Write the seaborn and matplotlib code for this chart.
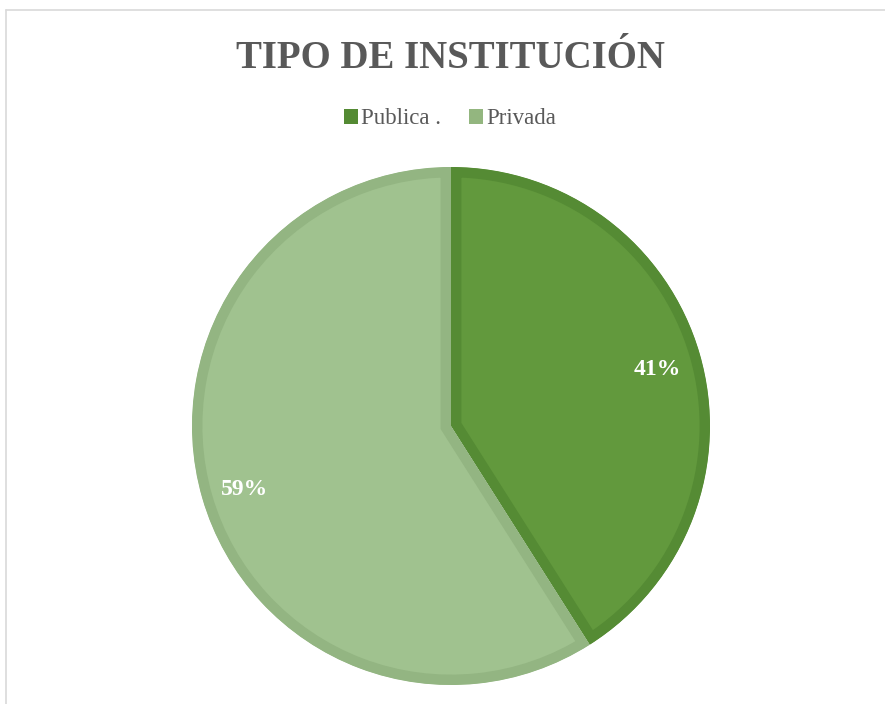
import matplotlib
matplotlib.use("Agg")
import matplotlib.pyplot as plt
from matplotlib.lines import Line2D
from matplotlib.patches import Patch
import seaborn as sns

categories = ["Publica .", "Privada"]
values = [41, 59]
fill_colors = ["#62993D", "#A0C28F"]
edge_colors = ["#558B34", "#93B582"]
legend_colors = ["#548A33", "#93B67F"]
title = "TIPO DE INSTITUCIÓN"

sns.set_theme(style="white")
plt.rcParams["font.family"] = ["Liberation Serif", "DejaVu Serif"]

W, H = 885, 704
fig = plt.figure(figsize=(W / 100, H / 100), dpi=100)
fig.patch.set_facecolor("white")

cx, cy, r = 451, 426, 259
ax = fig.add_axes([(cx - r) / W, (H - cy - r) / H, 2 * r / W, 2 * r / H])

wedges, texts, autotexts = ax.pie(
    values, colors=fill_colors, startangle=90, counterclock=False, radius=1,
    autopct="%1.0f%%", pctdistance=0.83,
    textprops=dict(color="white", fontsize=17, fontweight="bold"),
)
ax.set_xlim(-1, 1)
ax.set_ylim(-1, 1)
ax.set_aspect("equal")
ax.axis("off")
for w, ec in zip(wedges, edge_colors):
    w.set_edgecolor(ec)
    w.set_linewidth(15)
    w.set_clip_path(w)
    w.set_clip_on(True)
for t in autotexts:
    x, y = t.get_position()
    t.set_position((x, y - 0.015))

fig.text(450 / W, 1 - 58 / H, title, ha="center", va="center",
         fontsize=28, fontweight="bold", color="#595959")

handles = [Patch(facecolor=c, edgecolor="none") for c in legend_colors]
leg = fig.legend(handles, categories, loc="center", bbox_to_anchor=(450 / W, 1 - 119 / H),
                 ncol=2, frameon=False, fontsize=16.5, handlelength=0.6, handleheight=0.6,
                 handletextpad=0.15, columnspacing=1.2, labelcolor="#595959")

# chart area border (top and left visible)
fig.add_artist(Line2D([6 / W, 6 / W], [0, 1 - 10 / H], transform=fig.transFigure,
                      color="#D9D9D9", linewidth=1.2))
fig.add_artist(Line2D([6 / W, 1], [1 - 10 / H, 1 - 10 / H], transform=fig.transFigure,
                      color="#D9D9D9", linewidth=1.2))

fig.savefig("out.png", dpi=100, facecolor="white")
